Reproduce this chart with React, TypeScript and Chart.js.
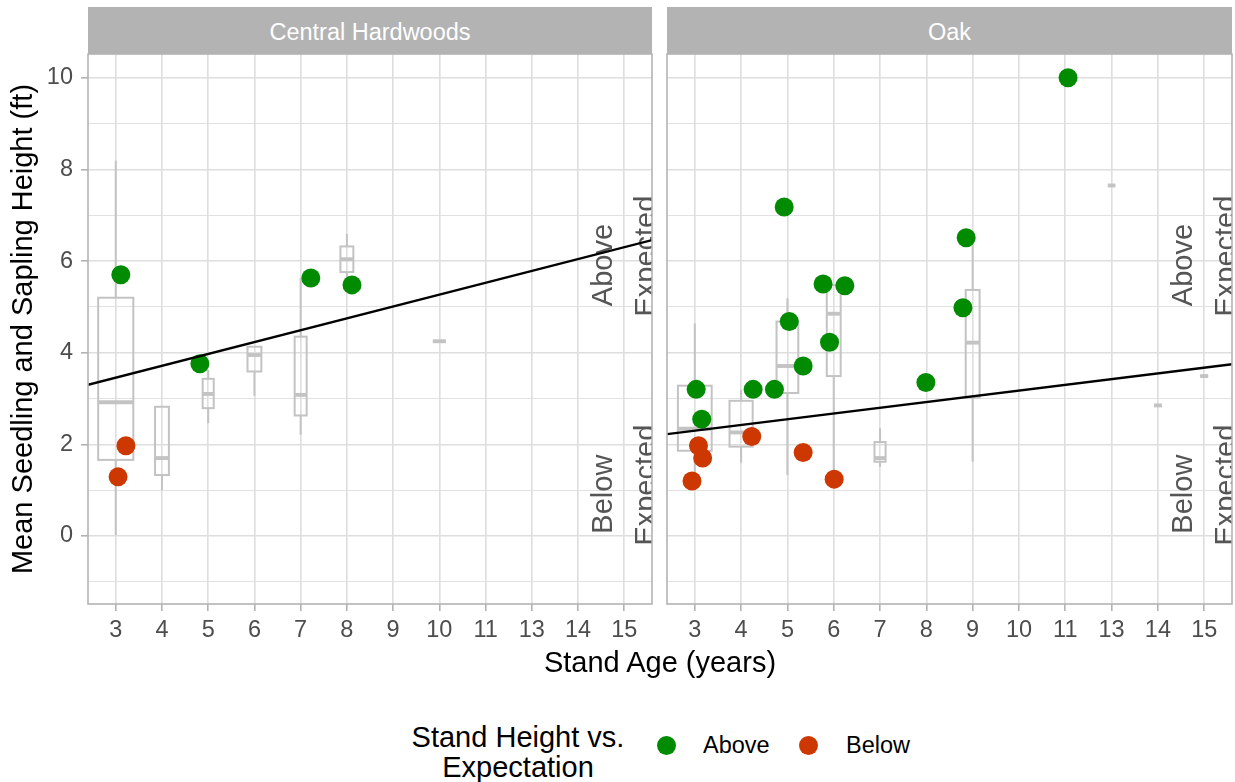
import React, { useEffect, useRef } from 'react';
import { Chart, registerables } from 'chart.js';

Chart.register(...registerables);

// ---------- data ----------
const categories = ['3', '4', '5', '6', '7', '8', '9', '10', '11', '13', '14', '15'];
const yTickValues = [-1, 0, 1, 2, 3, 4, 5, 6, 7, 8, 9, 10];
const panelTitles = ['Central Hardwoods', 'Oak'];
const groupNames = ['Above', 'Below'];

// Central Hardwoods: stand means (x = category position incl. jitter)
const chPointX = [1.11, 1.22, 1.05, 2.82, 5.22, 6.11];
const chPointY = [5.70, 1.97, 1.29, 3.76, 5.63, 5.48];
const chPointGroup = ['Above', 'Below', 'Below', 'Above', 'Above', 'Above'];
// Central Hardwoods: box plots
const chBoxCat = [1, 2, 3, 4, 5, 6, 8];
const chBoxLow = [0.02, 1.0, 2.46, 3.06, 2.21, 5.6, 4.25];
const chBoxQ1 = [1.66, 1.33, 2.79, 3.59, 2.63, 5.76, 4.25];
const chBoxMed = [2.92, 1.70, 3.10, 3.95, 3.08, 6.04, 4.25];
const chBoxQ3 = [5.20, 2.82, 3.43, 4.13, 4.35, 6.32, 4.25];
const chBoxHigh = [8.19, 2.82, 3.62, 4.13, 5.63, 6.59, 4.25];
const chBoxWidth = [0.76, 0.30, 0.24, 0.30, 0.26, 0.28, 0.28];
const chFit = [3.196, 0.259]; // intercept, slope

// Oak: stand means
const oakPointX = [1.03, 1.15, 1.08, 1.17, 0.94, 2.26, 2.72, 2.23, 3.04, 3.34, 3.34, 2.93, 3.77, 4.24, 3.91, 4.01, 5.99, 6.79, 6.86, 9.06];
const oakPointY = [3.20, 2.55, 1.97, 1.70, 1.20, 3.20, 3.20, 2.17, 4.68, 3.71, 1.82, 7.18, 5.50, 5.46, 4.23, 1.24, 3.35, 4.98, 6.51, 10.0];
const oakPointGroup = ['Above', 'Above', 'Below', 'Below', 'Below', 'Above', 'Above', 'Below', 'Above', 'Above', 'Below', 'Above', 'Above', 'Above', 'Above', 'Below', 'Above', 'Above', 'Above', 'Above'];
// Oak: box plots
const oakBoxCat = [1, 2, 3, 4, 5, 7, 10, 11, 12];
const oakBoxLow = [1.20, 1.60, 1.33, 1.27, 1.51, 1.62, 7.65, 2.85, 3.49];
const oakBoxQ1 = [1.86, 1.95, 3.12, 3.49, 1.62, 3.02, 7.65, 2.85, 3.49];
const oakBoxMed = [2.34, 2.26, 3.71, 4.85, 1.70, 4.22, 7.65, 2.85, 3.49];
const oakBoxQ3 = [3.28, 2.95, 4.68, 5.48, 2.05, 5.37, 7.65, 2.85, 3.49];
const oakBoxHigh = [4.64, 3.19, 5.19, 5.50, 2.35, 6.35, 7.65, 2.85, 3.49];
const oakBoxWidth = [0.73, 0.50, 0.47, 0.30, 0.24, 0.30, 0.16, 0.17, 0.17];
const oakFit = [2.173, 0.125];

// annotation labels
const annotationCat = 12;
const annotationAboveY = 6;
const annotationBelowY = 1;

// ---------- styling ----------
const FONT = "'Liberation Sans', Arial, Helvetica, sans-serif";
const GREEN = '#008B00';
const RED = '#CD3700';
const GRID = '#dedede';
const GREY70 = '#b3b3b3';
const X_MIN = 0.4;
const X_MAX = 12.6;
const Y_MIN = -1.485;
const Y_MAX = 10.52;

const decorPlugin = {
  id: 'panelDecor',
  beforeDatasetsDraw(chart: any, _args: any, opts: any) {
    const { ctx, chartArea: a, scales } = chart;
    const x = scales.x;
    const y = scales.y;
    ctx.save();
    ctx.beginPath();
    ctx.rect(a.left, a.top, a.right - a.left, a.bottom - a.top);
    ctx.clip();
    // box plots
    const b = opts.boxes;
    ctx.strokeStyle = '#c3c3c3';
    for (let i = 0; i < b.cat.length; i++) {
      const cx = x.getPixelForValue(b.cat[i]);
      const xl = x.getPixelForValue(b.cat[i] - b.width[i] / 2);
      const xr = x.getPixelForValue(b.cat[i] + b.width[i] / 2);
      const yLo = y.getPixelForValue(b.low[i]);
      const yQ1 = y.getPixelForValue(b.q1[i]);
      const yMed = y.getPixelForValue(b.med[i]);
      const yQ3 = y.getPixelForValue(b.q3[i]);
      const yHi = y.getPixelForValue(b.high[i]);
      ctx.lineWidth = 2;
      ctx.beginPath();
      ctx.moveTo(cx, yQ3);
      ctx.lineTo(cx, yHi);
      ctx.moveTo(cx, yQ1);
      ctx.lineTo(cx, yLo);
      ctx.stroke();
      ctx.strokeRect(xl, yQ3, xr - xl, yQ1 - yQ3);
      ctx.lineWidth = 3.9;
      ctx.beginPath();
      ctx.moveTo(xl, yMed);
      ctx.lineTo(xr, yMed);
      ctx.stroke();
    }
    // annotations
    ctx.fillStyle = '#555555';
    ctx.font = `29px ${FONT}`;
    ctx.textAlign = 'center';
    ctx.textBaseline = 'middle';
    const labels: [string, number][] = [
      ['Above', opts.aboveY],
      ['Below', opts.belowY],
    ];
    for (const [word, val] of labels) {
      const px = x.getPixelForValue(opts.annCat);
      const py = y.getPixelForValue(val);
      ctx.save();
      ctx.translate(px, py);
      ctx.rotate(-Math.PI / 2);
      ctx.fillText(word, -4, -20);
      ctx.fillText('Expected', 5, 23);
      ctx.restore();
    }
    ctx.restore();
  },
  afterDatasetsDraw(chart: any) {
    const { ctx, chartArea: a } = chart;
    ctx.save();
    ctx.strokeStyle = GREY70;
    ctx.lineWidth = 1.6;
    ctx.strokeRect(a.left, a.top, a.right - a.left, a.bottom - a.top);
    ctx.restore();
  },
};

type PanelData = {
  px: number[];
  py: number[];
  pg: string[];
  boxes: any;
  fit: number[];
};

function buildConfig(d: PanelData, showY: boolean, padding: any): any {
  const pts = (g: string) =>
    d.px.map((xv, i) => ({ x: xv, y: d.py[i], g: d.pg[i] })).filter((p) => p.g === g).map((p) => ({ x: p.x, y: p.y }));
  const fitLine = [X_MIN, X_MAX].map((xv) => ({ x: xv, y: d.fit[0] + d.fit[1] * xv }));
  const even = (c: any) => c.tick && Math.round(c.tick.value) % 2 === 0;
  return {
    type: 'scatter',
    data: {
      datasets: [
        {
          label: 'fit',
          data: fitLine,
          showLine: true,
          borderColor: '#000000',
          borderWidth: 2.3,
          pointRadius: 0,
          fill: false,
        },
        {
          label: groupNames[0],
          data: pts(groupNames[0]),
          backgroundColor: GREEN,
          pointRadius: 9.5,
          borderWidth: 0,
        },
        {
          label: groupNames[1],
          data: pts(groupNames[1]),
          backgroundColor: RED,
          pointRadius: 9.5,
          borderWidth: 0,
        },
      ],
    },
    options: {
      responsive: false,
      animation: false,
      events: [],
      layout: { padding, autoPadding: false },
      plugins: {
        legend: { display: false },
        tooltip: { enabled: false },
        panelDecor: {
          boxes: d.boxes,
          annCat: annotationCat,
          aboveY: annotationAboveY,
          belowY: annotationBelowY,
        },
      },
      scales: {
        x: {
          type: 'linear',
          min: X_MIN,
          max: X_MAX,
          afterBuildTicks: (s: any) => {
            s.ticks = categories.map((_, i) => ({ value: i + 1 }));
          },
          afterFit: (s: any) => {
            s.height = 60;
            s.paddingLeft = 0;
            s.paddingRight = 0;
          },
          ticks: {
            autoSkip: false,
            maxRotation: 0,
            padding: 5,
            color: '#4d4d4d',
            font: { family: FONT, size: 23.5 },
            callback: (v: any) => categories[Math.round(Number(v)) - 1],
          },
          grid: {
            color: GRID,
            lineWidth: 1.6,
            tickLength: 7,
            tickColor: GREY70,
            tickWidth: 1.6,
          },
          border: { display: false },
        },
        y: {
          type: 'linear',
          min: Y_MIN,
          max: Y_MAX,
          afterBuildTicks: (s: any) => {
            s.ticks = yTickValues.map((v) => ({ value: v }));
          },
          afterFit: (s: any) => {
            s.width = showY ? 88 : 0;
            s.paddingTop = 0;
            s.paddingBottom = 0;
          },
          ticks: {
            display: showY,
            padding: 8,
            color: '#4d4d4d',
            font: { family: FONT, size: 23.5 },
            callback: (v: any) => (Math.round(Number(v)) % 2 === 0 ? String(v) : ''),
          },
          grid: {
            color: GRID,
            lineWidth: (c: any) => (even(c) ? 1.6 : 0.9),
            drawTicks: showY,
            tickLength: 7,
            tickColor: (c: any) => (even(c) ? GREY70 : 'rgba(0,0,0,0)'),
            tickWidth: 1.6,
          },
          border: { display: false },
          title: {
            display: showY,
            text: 'Mean Seedling and Sapling Height (ft)',
            color: '#000000',
            font: { family: FONT, size: 29 },
            padding: { top: 7, bottom: 0 },
          },
        },
      },
    },
    plugins: [decorPlugin],
  };
}

const chData: PanelData = {
  px: chPointX,
  py: chPointY,
  pg: chPointGroup,
  boxes: { cat: chBoxCat, low: chBoxLow, q1: chBoxQ1, med: chBoxMed, q3: chBoxQ3, high: chBoxHigh, width: chBoxWidth },
  fit: chFit,
};
const oakData: PanelData = {
  px: oakPointX,
  py: oakPointY,
  pg: oakPointGroup,
  boxes: { cat: oakBoxCat, low: oakBoxLow, q1: oakBoxQ1, med: oakBoxMed, q3: oakBoxQ3, high: oakBoxHigh, width: oakBoxWidth },
  fit: oakFit,
};

export default function App() {
  const leftRef = useRef<HTMLCanvasElement>(null);
  const rightRef = useRef<HTMLCanvasElement>(null);

  useEffect(() => {
    const left = new Chart(leftRef.current as HTMLCanvasElement, buildConfig(chData, true, { top: 30, right: 8, bottom: 0, left: 0 }));
    const right = new Chart(rightRef.current as HTMLCanvasElement, buildConfig(oakData, false, { top: 30, right: 3, bottom: 0, left: 7 }));
    return () => {
      left.destroy();
      right.destroy();
    };
  }, []);

  const stripStyle = (left: number, width: number): React.CSSProperties => ({
    position: 'absolute',
    left,
    top: 7,
    width,
    height: 47,
    paddingTop: 3,
    boxSizing: 'border-box',
    background: GREY70,
    color: '#ffffff',
    fontSize: 23.5,
    fontFamily: FONT,
    display: 'flex',
    alignItems: 'center',
    justifyContent: 'center',
  });

  const dot = (cx: number, color: string): React.CSSProperties => ({
    position: 'absolute',
    left: cx - 9.5,
    top: 745 - 9.5,
    width: 19,
    height: 19,
    borderRadius: '50%',
    background: color,
  });

  const legendText = (left: number): React.CSSProperties => ({
    position: 'absolute',
    left,
    top: 734,
    fontSize: 23.5,
    lineHeight: '23.5px',
    fontFamily: FONT,
    color: '#000',
    whiteSpace: 'nowrap',
  });

  return (
    <div style={{ position: 'absolute', left: 0, top: 0, width: 1235, height: 782, background: '#fff', overflow: 'hidden', fontFamily: FONT }}>
      <div style={stripStyle(88, 564)}>{panelTitles[0]}</div>
      <div style={stripStyle(667, 565)}>{panelTitles[1]}</div>
      <canvas ref={leftRef} width={660} height={640} style={{ position: 'absolute', left: 0, top: 24, width: 660, height: 640 }} />
      <canvas ref={rightRef} width={575} height={640} style={{ position: 'absolute', left: 660, top: 24, width: 575, height: 640 }} />
      <div style={{ position: 'absolute', left: 360, width: 600, top: 648, textAlign: 'center', fontSize: 29, lineHeight: '29px', color: '#000', whiteSpace: 'nowrap' }}>
        Stand Age (years)
      </div>
      <div style={{ position: 'absolute', left: 368, width: 300, top: 722, textAlign: 'center', fontSize: 29, lineHeight: '30px', color: '#000' }}>
        Stand Height vs.
        <br />
        Expectation
      </div>
      <div style={dot(666, GREEN)} />
      <div style={legendText(703)}>{groupNames[0]}</div>
      <div style={dot(808, RED)} />
      <div style={legendText(846)}>{groupNames[1]}</div>
    </div>
  );
}
